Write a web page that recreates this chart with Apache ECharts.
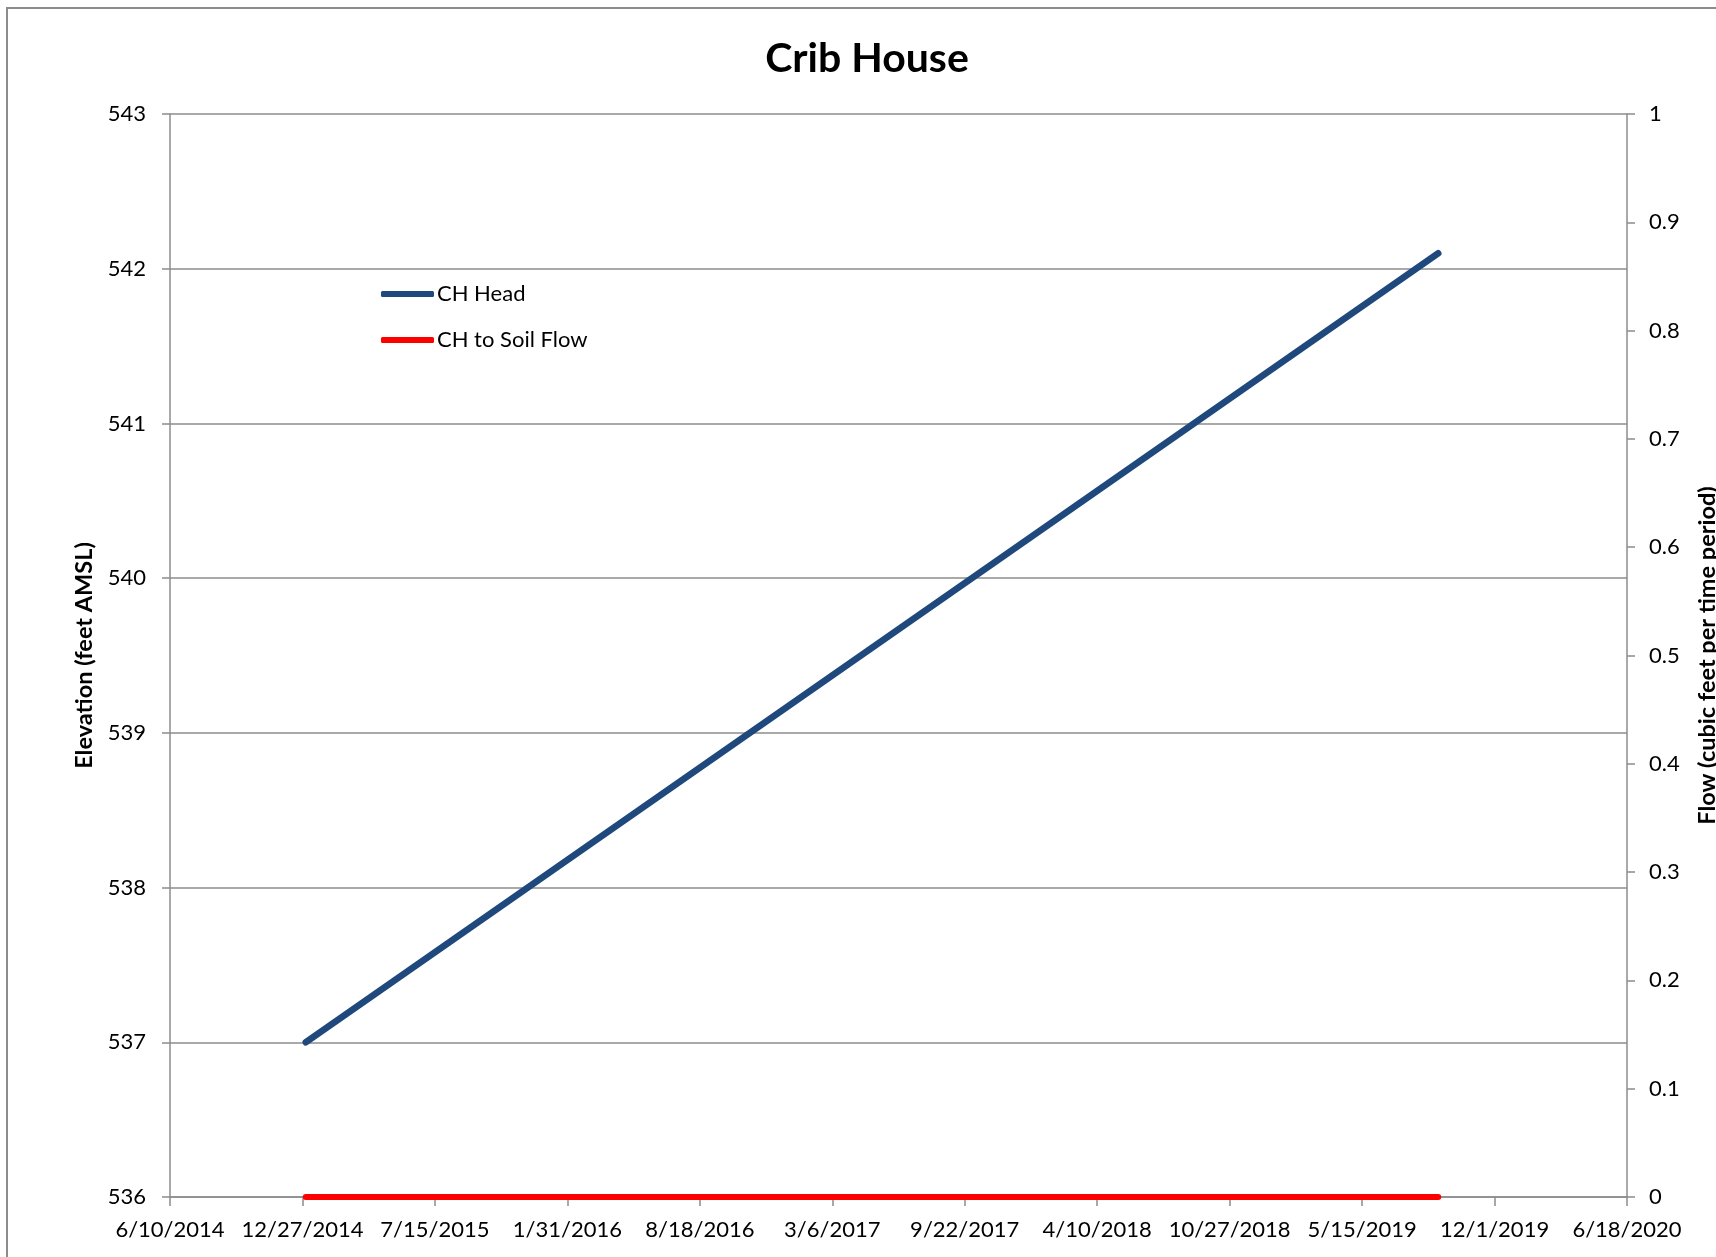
<!DOCTYPE html>
<html>
<head>
<meta charset="utf-8">
<title>Crib House</title>
<script src="https://cdn.jsdelivr.net/npm/echarts@6/dist/echarts.min.js"></script>
<style>
  html, body { margin: 0; padding: 0; background: #fff; overflow: hidden; }
  #chart { width: 1716px; height: 1257px; }
</style>
</head>
<body>
<div id="chart"></div>
<script>
// Series readings (dates as ISO strings)
const headDates = ['2015-01-01', '2019-09-07'];
const headValues = [537.0, 542.1];
const flowDates = ['2015-01-01', '2019-09-07'];
const flowValues = [0, 0];

// Axis ranges, spreadsheet day serials (days since 1899-12-30)
const xStart = '2014-06-10';
const xEnd = '2020-06-18';
const xStepDays = 200;
const elevMin = 536, elevMax = 543, elevStep = 1;
const flowMin = 0, flowMax = 1, flowStep = 0.1;

const FONT = 'Lato, "Open Sans", sans-serif';
const GRAY = '#8c8c8c';

function serial(iso) {
  const [y, m, d] = iso.split('-').map(Number);
  return Math.round((Date.UTC(y, m - 1, d) - Date.UTC(1899, 11, 30)) / 86400000);
}
function serialLabel(v) {
  const dt = new Date(Date.UTC(1899, 11, 30) + Math.round(v) * 86400000);
  return (dt.getUTCMonth() + 1) + '/' + dt.getUTCDate() + '/' + dt.getUTCFullYear();
}
const pairs = (ds, vs) => ds.map((d, i) => [serial(d), vs[i]]);

const el = document.getElementById('chart');
const chart = echarts.init(el, null, { renderer: 'canvas', width: 1716, height: 1257 });

chart.setOption({
  backgroundColor: '#fff',
  animation: false,
  title: {
    text: 'Crib House',
    left: 862,
    top: 33,
    textAlign: 'center',
    textStyle: { fontFamily: FONT, fontWeight: 'bold', fontSize: 41, color: '#000' }
  },
  legend: {
    orient: 'vertical',
    left: 376,
    top: 278,
    itemWidth: 53,
    itemHeight: 6,
    itemGap: 24,
    icon: 'roundRect',
    textStyle: { fontFamily: FONT, fontSize: 22, color: '#000', lineHeight: 22, padding: [0, 0, 0, -2] },
    data: ['CH Head', 'CH to Soil Flow']
  },
  // chart-area frame: top and left edges (the rest falls outside the canvas)
  graphic: [{
    type: 'polyline',
    shape: { points: [[1716, 8], [7, 8], [7, 1257]] },
    style: { fill: null, stroke: GRAY, lineWidth: 2 },
    silent: true,
    z: -1
  }],
  grid: { left: 170, right: 89, top: 114, bottom: 60, containLabel: false, outerBoundsMode: 'none' },
  xAxis: {
    type: 'value',
    min: serial(xStart),
    max: serial(xEnd),
    interval: xStepDays,
    axisLine: { show: true, onZero: false, lineStyle: { color: GRAY, width: 1.5 } },
    axisTick: { show: true, inside: false, length: 9, lineStyle: { color: GRAY, width: 1.5 } },
    splitLine: { show: false },
    axisLabel: {
      margin: 22,
      fontFamily: FONT, fontSize: 22, color: '#000',
      showMinLabel: true, showMaxLabel: true,
      formatter: serialLabel
    }
  },
  yAxis: [{
    type: 'value',
    position: 'left',
    min: elevMin, max: elevMax, interval: elevStep,
    name: 'Elevation (feet AMSL)',
    nameLocation: 'middle',
    nameGap: 68,
    nameTextStyle: { fontFamily: FONT, fontWeight: 'bold', fontSize: 23.5, color: '#000' },
    axisLine: { show: true, lineStyle: { color: GRAY, width: 1.5 } },
    axisTick: { show: true, inside: false, length: 8, lineStyle: { color: GRAY, width: 1.5 } },
    splitLine: { show: true, lineStyle: { color: GRAY, width: 1.5 } },
    axisLabel: { margin: 24, fontFamily: FONT, fontSize: 22, color: '#000' }
  }, {
    type: 'value',
    position: 'right',
    min: flowMin, max: flowMax, interval: flowStep,
    name: 'Flow (cubic feet per time period)',
    nameLocation: 'middle',
    nameGap: 68,
    nameRotate: 90,
    nameTextStyle: { fontFamily: FONT, fontWeight: 'bold', fontSize: 23.5, color: '#000' },
    axisLine: { show: true, lineStyle: { color: GRAY, width: 1.5 } },
    axisTick: { show: true, inside: false, length: 8, lineStyle: { color: GRAY, width: 1.5 } },
    splitLine: { show: false },
    axisLabel: {
      margin: 22, fontFamily: FONT, fontSize: 22, color: '#000',
      formatter: v => String(Math.round(v * 10) / 10)
    }
  }],
  series: [{
    name: 'CH Head',
    type: 'line',
    yAxisIndex: 0,
    data: pairs(headDates, headValues),
    showSymbol: false,
    symbol: 'none',
    color: '#1f497d',
    lineStyle: { color: '#1f497d', width: 6.5, cap: 'round' },
    z: 3
  }, {
    name: 'CH to Soil Flow',
    type: 'line',
    yAxisIndex: 1,
    data: pairs(flowDates, flowValues),
    showSymbol: false,
    symbol: 'none',
    color: '#ff0000',
    lineStyle: { color: '#ff0000', width: 6, cap: 'round' },
    z: 4
  }]
});
</script>
</body>
</html>
